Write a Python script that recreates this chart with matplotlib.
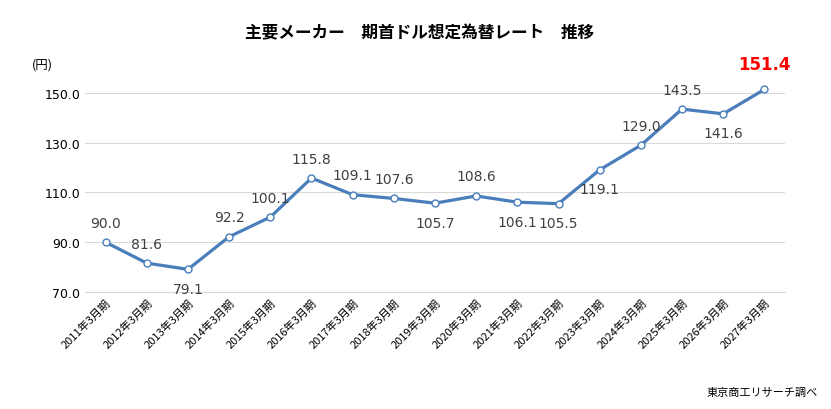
import matplotlib
matplotlib.use("Agg")
import matplotlib.pyplot as plt

plt.rcParams['font.family'] = ['Noto Sans CJK JP', 'DejaVu Sans']

years = list(range(2011, 2028))
labels = [f"{y}年3月期" for y in years]
values = [90.0, 81.6, 79.1, 92.2, 100.1, 115.8, 109.1, 107.6, 105.7, 108.6,
          106.1, 105.5, 119.1, 129.0, 143.5, 141.6, 151.4]
# label placement: 1 above, -1 below
place = [1, 1, -1, 1, 1, 1, 1, 1, -1, 1, -1, -1, -1, 1, 1, -1, 1]

fig = plt.figure(figsize=(8.31, 4.10), dpi=100)
ax = fig.add_axes([85/831, 1-293/410, 700/831, (293-80)/410])
x = list(range(len(values)))
ax.plot(x, values, color='#4a7ebb', lw=2.3, marker='o', ms=5,
        mfc='white', mec='#4a7ebb', mew=1.0, zorder=3)
ax.set_xlim(-0.5, len(values) - 0.5)
ax.set_ylim(70, 155.6)
ax.set_yticks([70, 90, 110, 130, 150])
ax.set_yticklabels([f"{v:.1f}" for v in [70, 90, 110, 130, 150]], fontsize=9,
                   family='DejaVu Sans')
ax.grid(axis='y', color='#d9d9d9', lw=0.8)
ax.set_axisbelow(True)
for s in ['top', 'right', 'left']:
    ax.spines[s].set_visible(False)
ax.spines['bottom'].set_color('#d9d9d9')
ax.tick_params(axis='both', length=0)
ax.set_xticks(x)
ax.set_xticklabels(labels, rotation=45, ha='right', rotation_mode='anchor', fontsize=8)
for i, (v, p) in enumerate(zip(values, place)):
    if i == len(values) - 1:
        ax.annotate(f"{v:.1f}", (i, v), xytext=(0, 12), textcoords='offset points',
                    ha='center', va='bottom', fontsize=12, fontweight='bold',
                    color='#ff0000', family='DejaVu Sans')
    else:
        ax.annotate(f"{v:.1f}", (i, v), xytext=(0, 9 * p), textcoords='offset points',
                    ha='center', va='bottom' if p > 0 else 'top', fontsize=10,
                    color='#404040', family='DejaVu Sans')
fig.text(420/831, 1-33/410, "主要メーカー　期首ドル想定為替レート　推移", ha='center', va='center',
         fontsize=12, fontweight='bold')
fig.text(32/831, 1-65/410, "(円)", ha='left', va='center', fontsize=9)
fig.text(818/831, 1-393/410, "東京商工リサーチ調べ", ha='right', va='center', fontsize=8)
fig.savefig("out.png", dpi=100)
